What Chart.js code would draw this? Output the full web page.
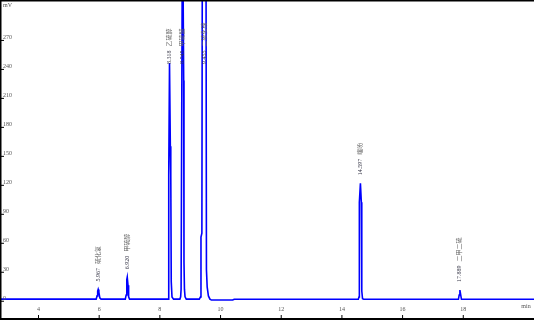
<!DOCTYPE html>
<html>
<head>
<meta charset="utf-8">
<script src="https://cdn.jsdelivr.net/npm/chart.js@4.4.0/dist/chart.umd.min.js"></script>
<style>
  html, body { margin: 0; padding: 0; background: #fff; overflow: hidden; }
</style>
</head>
<body>
<canvas id="chromChart" width="534" height="320"></canvas>
<script>
// chromatogram trace (min, mV)
const times = [
    2.764, 5.90, 5.93, 5.95, 5.967, 5.99, 6.02, 6.06,
    6.86, 6.89, 6.91, 6.925, 6.95, 6.97, 7.00,
    8.27, 8.285, 8.30, 8.318, 8.345, 8.36, 8.375, 8.40, 8.45,
    8.66, 8.685, 8.70, 8.746, 8.785, 8.795, 8.81, 8.83, 8.87,
    9.30, 9.34, 9.355, 9.385, 9.40, 9.455, 9.52, 9.535, 9.56, 9.60, 9.65, 9.70,
    10.40, 10.45, 14.54, 14.565, 14.575, 14.61, 14.64, 14.655, 14.68, 14.72,
    17.84, 17.865, 17.889, 17.915, 17.94, 20.331
];
const signal = [
    1.7, 1.7, 5, 10, 11.7, 9, 3, 1.7,
    1.7, 6, 22, 24.4, 16, 4, 1.7,
    1.7, 20, 130, 246, 160, 130, 20, 4, 1.7,
    1.7, 4, 12, 420, 228, 40, 12, 4, 1.7,
    1.7, 4, 66, 70, 380, 520, 380, 32, 14, 5, 1.7, 0.7,
    0.7, 1.5, 1.5, 4, 102, 121.7, 102, 10, 2, 1.5,
    1.5, 6, 11, 6, 1.5, 1.5
];

const yTickValues = [0, 30, 60, 90, 120, 150, 180, 210, 240, 270];
const xTickValues = [4, 6, 8, 10, 12, 14, 16, 18];

// peak annotations
const peakTimes = [5.967, 6.920, 8.318, 8.745, 9.455, 14.597, 17.889];
const peakHeights = [11.7, 24.4, 246, 420, 520, 121.7, 11];
const peakNames = ['硫化氢', '甲硫醇', '乙硫醇', '甲硫醚', '二硫化碳', '噻吩', '二甲二硫'];

const FONT = "'Liberation Serif', 'Noto Sans CJK SC', serif";

const axisDecor = {
    id: 'axisDecor',
    afterDatasetsDraw(chart) {
        const { ctx, chartArea: a, scales: { x, y } } = chart;
        ctx.save();

        // frame
        ctx.strokeStyle = '#000';
        ctx.lineWidth = 1.5;
        ctx.beginPath();
        ctx.moveTo(0, 0.75);
        ctx.lineTo(chart.width, 0.75);
        ctx.stroke();
        ctx.lineWidth = 2;
        ctx.beginPath();
        ctx.moveTo(0, a.bottom);
        ctx.lineTo(chart.width, a.bottom);
        ctx.moveTo(a.left - 0.5, 0);
        ctx.lineTo(a.left - 0.5, a.bottom);
        ctx.stroke();

        ctx.fillStyle = '#555';
        ctx.font = '6px ' + FONT;

        // y ticks, drawn inside
        ctx.lineWidth = 1;
        ctx.textAlign = 'left';
        ctx.textBaseline = 'middle';
        yTickValues.forEach(v => {
            const py = y.getPixelForValue(v);
            ctx.beginPath();
            ctx.moveTo(a.left, py + 0.5);
            ctx.lineTo(a.left + 3, py + 0.5);
            ctx.stroke();
            ctx.fillText(String(v), 3, py - 2.5);
        });
        ctx.fillText('mV', 3, 5);

        // x ticks, drawn inside
        ctx.textAlign = 'center';
        xTickValues.forEach(v => {
            const px = x.getPixelForValue(v);
            ctx.beginPath();
            ctx.moveTo(px, a.bottom - 4);
            ctx.lineTo(px, a.bottom);
            ctx.stroke();
            ctx.fillText(String(v), px, 309);
        });
        ctx.fillText('min', 526, 306);

        // peak labels
        peakTimes.forEach((t, i) => {
            const px = x.getPixelForValue(t);
            const top = y.getPixelForValue(peakHeights[i]);
            const anchor = Math.max(top - 8, 64);
            ctx.save();
            ctx.translate(px, anchor);
            ctx.rotate(-Math.PI / 2);
            ctx.textAlign = 'left';
            ctx.textBaseline = 'middle';
            const num = t.toFixed(3);
            ctx.fillStyle = '#334';
            ctx.fillText(num, 0, 0);
            ctx.fillStyle = '#666';
            ctx.fillText(peakNames[i], ctx.measureText(num).width + 4, 0);
            ctx.restore();
        });

        ctx.restore();
    }
};

const ctx = document.getElementById('chromChart').getContext('2d');
const chromChart = new Chart(ctx, {
    type: 'line',
    data: {
        datasets: [{
            data: times.map((t, i) => ({ x: t, y: signal[i] })),
            borderColor: '#0000ff',
            borderWidth: 1.6,
            pointRadius: 0,
            tension: 0,
            fill: false
        }]
    },
    options: {
        responsive: false,
        animation: false,
        events: [],
        layout: { padding: { left: 1, top: 1, right: 0, bottom: 1 } },
        scales: {
            x: { type: 'linear', min: 2.764, max: 20.331, display: false },
            y: { type: 'linear', min: -18.9, max: 310.3, display: false }
        },
        plugins: {
            legend: { display: false },
            tooltip: { enabled: false }
        }
    },
    plugins: [axisDecor]
});
</script>
</body>
</html>
